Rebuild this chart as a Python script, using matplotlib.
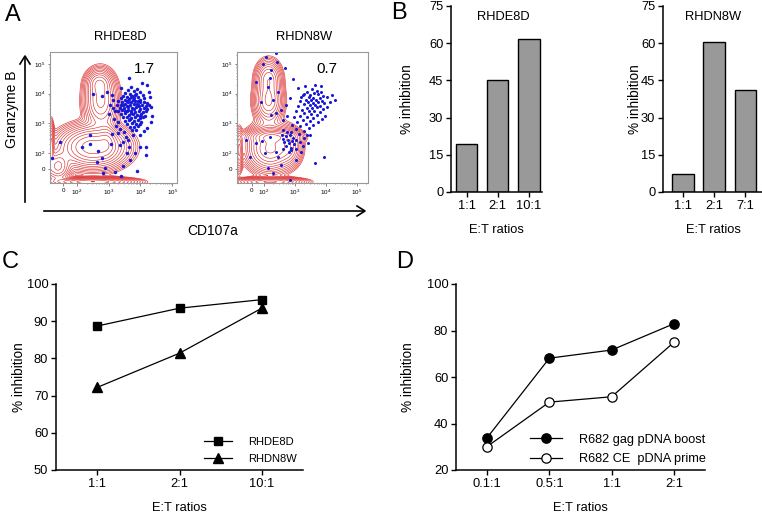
import numpy as np
import matplotlib.pyplot as plt

plt.rcParams['font.family'] = ['Liberation Sans', 'DejaVu Sans']
plt.rcParams['mathtext.fontset'] = 'custom'
plt.rcParams['mathtext.rm'] = 'Liberation Sans'
plt.rcParams['mathtext.it'] = 'Liberation Sans:italic'

# ---- panel A: flow cytometry (axes in log10 decades) ----
samples = ['RHDE8D', 'RHDN8W']
gate_pct = ['1.7', '0.7']

# density blobs: (x, y, sx, sy, weight)
blobs_de8d = [(2.50, 2.20, 0.50, 0.33, 1.00), (1.40, 1.55, 0.20, 0.25, 0.45),
              (2.50, 1.03, 0.60, 0.07, 0.80), (1.18, 2.20, 0.05, 0.40, 0.35),
              (2.75, 3.75, 0.25, 0.45, 0.45), (2.70, 4.35, 0.20, 0.22, 0.30),
              (2.95, 2.40, 0.15, 0.30, 0.25)]
blobs_dn8w = [(2.20, 2.15, 0.35, 0.35, 1.00), (2.30, 2.55, 0.40, 0.12, 0.60),
              (2.20, 1.03, 0.50, 0.07, 0.70), (2.15, 3.75, 0.22, 0.35, 0.50),
              (2.15, 4.50, 0.20, 0.30, 0.40), (2.80, 2.20, 0.20, 0.30, 0.30),
              (1.20, 2.10, 0.06, 0.35, 0.25)]

# blue CD107a+ events (decades)
de8d_x = [3.62, 3.78, 3.90, 3.70, 3.52, 3.85, 4.00, 3.66, 3.45, 3.58, 3.74, 3.92, 4.08, 3.38, 3.50, 3.64,
          3.80, 3.97, 4.12, 3.30, 3.43, 3.56, 3.70, 3.84, 3.98, 4.10, 4.20, 3.27, 3.40, 3.52, 3.66, 3.79,
          3.92, 4.04, 4.16, 4.26, 3.34, 3.47, 3.60, 3.73, 3.86, 3.99, 4.11, 4.22, 3.30, 3.43, 3.56, 3.69,
          3.82, 3.95, 4.07, 4.18, 3.38, 3.51, 3.64, 3.77, 3.90, 4.03, 4.14, 3.45, 3.58, 3.71, 3.84, 3.97,
          4.09, 3.52, 3.65, 3.78, 3.91, 4.02, 3.58, 3.72, 3.85, 3.97, 3.66, 3.80, 3.92, 3.73, 3.87,
          3.57, 3.88, 3.69, 3.81, 3.62, 3.96, 3.75, 3.50, 4.00, 3.66, 3.71, 3.83, 3.93, 3.60, 3.46,
          3.64, 2.78, 2.52, 2.94, 3.10, 3.15, 3.05, 3.12, 3.20, 3.02, 3.18, 3.28, 3.22, 3.36, 3.30, 3.10,
          2.41, 1.47, 1.20, 2.15, 2.41, 2.67, 2.78, 2.62, 2.88, 2.83, 3.06, 3.20, 3.39, 3.46, 3.67, 3.88,
          3.59, 3.83, 3.99, 4.18, 4.18, 3.65, 3.46, 3.36, 4.20, 4.30, 4.36, 4.20, 3.99, 3.55, 3.75, 3.48,
          4.10, 3.62, 4.05, 3.40, 4.28, 4.34, 4.32]
de8d_y = [4.12, 4.08, 4.15, 4.22, 4.02, 4.00, 4.05, 3.98, 3.92, 3.90, 3.93, 3.90, 3.94, 3.84, 3.80, 3.83,
          3.85, 3.80, 3.84, 3.74, 3.71, 3.74, 3.72, 3.76, 3.70, 3.73, 3.68, 3.63, 3.60, 3.64, 3.61, 3.65,
          3.60, 3.63, 3.58, 3.62, 3.52, 3.50, 3.54, 3.50, 3.54, 3.49, 3.53, 3.47, 3.41, 3.44, 3.40, 3.43,
          3.39, 3.43, 3.38, 3.42, 3.31, 3.33, 3.29, 3.32, 3.28, 3.31, 3.26, 3.20, 3.22, 3.18, 3.21, 3.17,
          3.20, 3.09, 3.11, 3.07, 3.10, 3.06, 2.98, 3.00, 2.96, 2.99, 2.88, 2.86, 2.90, 2.78, 2.76,
          3.58, 3.66, 3.36, 3.47, 3.70, 3.57, 3.80, 3.40, 3.25, 3.15, 3.88, 3.95, 3.75, 3.45, 3.62,
          4.54, 3.92, 3.99, 4.06, 3.95, 3.80, 3.62, 3.50, 3.40, 3.30, 3.15, 3.05, 2.90, 2.80, 2.68, 2.63,
          2.61, 2.38, 1.84, 2.21, 2.29, 2.07, 1.82, 1.69, 1.48, 1.34, 2.29, 1.37, 1.23, 1.57, 1.76, 1.39,
          1.99, 1.99, 2.21, 2.21, 1.93, 2.21, 2.38, 2.27, 4.29, 3.90, 3.25, 2.83, 2.61, 2.55, 2.62, 2.70,
          2.75, 2.45, 4.35, 4.20, 4.05, 3.55, 3.05]
dn8w_x = [3.55, 3.70, 3.40, 3.62, 3.85, 3.30, 3.50, 3.75, 3.92, 3.20, 3.44, 3.60, 3.80, 4.02, 3.35, 3.52,
          3.68, 3.88, 3.15, 3.42, 3.58, 3.74, 3.95, 4.12, 3.28, 3.48, 3.66, 3.82, 3.10, 3.38, 3.55, 3.72,
          3.90, 3.22, 3.45, 3.62, 3.80, 3.05, 3.30, 3.52, 3.70, 3.15, 3.40, 3.60, 2.98, 3.25, 3.48, 3.08,
          3.35, 3.58, 2.92, 3.18, 3.45, 3.02, 3.28, 2.88, 3.12, 3.38, 4.20, 4.05, 3.98, 3.85, 3.65, 3.32,
          4.28, 3.75, 3.88,
          2.62, 2.75, 2.58, 2.70, 2.85, 2.95, 2.62, 2.78, 2.90, 3.05, 2.66, 2.82, 2.98, 3.15, 2.72, 2.88,
          3.05, 3.25, 2.60, 2.80, 3.42, 3.30, 3.50, 3.20,
          3.64, 3.04, 2.83, 2.88, 2.45, 2.13, 2.29, 1.54, 1.43, 1.75, 2.55, 2.40, 2.20, 1.95, 2.05, 3.95,
          2.08, 2.42, 2.38, 1.97, 2.24, 2.67, 2.94, 2.18, 2.13, 1.75, 2.45, 2.29, 2.22, 2.40, 2.56, 2.72,
          2.83, 3.10, 3.26, 1.90, 2.60, 2.75]
dn8w_y = [4.15, 4.10, 4.05, 4.02, 4.06, 3.98, 3.95, 3.97, 3.92, 3.90, 3.88, 3.86, 3.85, 3.88, 3.80, 3.78,
          3.80, 3.76, 3.75, 3.70, 3.68, 3.72, 3.68, 3.72, 3.64, 3.60, 3.62, 3.58, 3.58, 3.52, 3.50, 3.54,
          3.48, 3.45, 3.42, 3.40, 3.38, 3.40, 3.34, 3.30, 3.28, 3.25, 3.20, 3.18, 3.20, 3.12, 3.08, 3.05,
          2.98, 2.95, 2.95, 2.90, 2.85, 2.80, 2.75, 2.72, 2.65, 2.62, 3.95, 3.55, 3.25, 4.25, 4.30, 4.25,
          3.80, 3.05, 3.15,
          2.78, 2.70, 2.62, 2.58, 2.60, 2.52, 2.48, 2.45, 2.40, 2.45, 2.36, 2.32, 2.30, 2.38, 2.22, 2.18,
          2.15, 2.25, 2.15, 2.05, 2.33, 2.50, 2.60, 2.05,
          1.65, 1.76, 1.09, 2.10, 1.88, 1.48, 1.32, 1.88, 2.44, 2.33, 1.60, 2.05, 2.55, 2.40, 2.00, 1.85,
          5.22, 5.07, 5.36, 4.99, 4.79, 4.87, 4.48, 4.51, 4.23, 4.40, 4.06, 3.78, 3.28, 3.34, 3.45, 3.62,
          3.84, 4.18, 3.95, 3.70, 3.10, 3.25]

# ---- panel B ----
ratios_b1 = ['1:1', '2:1', '10:1']
inhib_b1 = [19.5, 45.2, 61.6]
ratios_b2 = ['1:1', '2:1', '7:1']
inhib_b2 = [7.1, 60.6, 41.3]

# ---- panel C ----
ratios_c = ['1:1', '2:1', '10:1']
c_de8d = [88.7, 93.5, 95.8]
c_dn8w = [72.2, 81.4, 93.5]

# ---- panel D ----
ratios_d = ['0.1:1', '0.5:1', '1:1', '2:1']
d_boost = [33.9, 68.1, 71.6, 82.9]
d_prime = [30.1, 49.2, 51.5, 74.9]

W, H = 762, 515
fig = plt.figure(figsize=(W / 100, H / 100), dpi=100)


def add_ax(x0, y0, x1, y1):
    return fig.add_axes([x0 / W, 1 - y1 / H, (x1 - x0) / W, (y1 - y0) / H])


def ftext(x, y, s, **kw):
    fig.text(x / W, 1 - y / H, s, **kw)


def flow_panel(ax, blobs, xs, ys, xlim, ylim, x0, y0, ms):
    gx = np.linspace(xlim[0], xlim[1], 300)
    gy = np.linspace(ylim[0], ylim[1], 300)
    X, Y = np.meshgrid(gx, gy)
    Z = np.zeros_like(X)
    for cx, cy, sx, sy, w in blobs:
        Z += w * np.exp(-0.5 * ((X - cx) / sx) ** 2 - 0.5 * ((Y - cy) / sy) ** 2)
    levels = Z.max() * np.logspace(-1.9, -0.1, 13)
    ax.contour(X, Y, Z, levels=levels, colors='#dc3232', linewidths=0.45)
    ax.plot(xs, ys, 'o', color='#1818d8', ms=ms, mew=0)
    ax.set_xlim(xlim)
    ax.set_ylim(ylim)
    ax.set_xticks([x0, 2, 3, 4, 5], ['0', '10$^2$', '10$^3$', '10$^4$', '10$^5$'])
    ax.set_yticks([y0, 2, 3, 4, 5], ['0', '10$^2$', '10$^3$', '10$^4$', '10$^5$'])
    minor = [d + np.log10(k) for d in range(2, 6) for k in range(2, 10)]
    ax.set_xticks([m for m in minor if m < xlim[1]], minor=True)
    ax.set_yticks([m for m in minor if m < ylim[1]], minor=True)
    ax.tick_params(labelsize=4.5, length=1.8, width=0.5, pad=1.5, color='#555555')
    ax.tick_params(which='minor', length=1.0, width=0.4, color='#555555')
    for s in ax.spines.values():
        s.set_color('#999999')
        s.set_linewidth(0.8)


axA1 = add_ax(50, 52, 177, 183)
flow_panel(axA1, blobs_de8d, de8d_x, de8d_y, (1.15, 5.15), (0.99, 5.40), 1.56, 1.46, 2.5)
axA2 = add_ax(237, 52, 368, 183)
flow_panel(axA2, blobs_dn8w, dn8w_x, dn8w_y, (1.13, 5.36), (0.99, 5.40), 1.61, 1.46, 2.2)
ftext(120, 37, samples[0], ha='center', va='center', fontsize=9.3)
ftext(304, 37, samples[1], ha='center', va='center', fontsize=9.3)
ftext(144, 69, gate_pct[0], ha='center', va='center', fontsize=11)
ftext(327, 69, gate_pct[1], ha='center', va='center', fontsize=11)
ftext(12, 109, 'Granzyme B', ha='center', va='center', rotation=90, fontsize=10)
ftext(213, 231, 'CD107a', ha='center', va='center', fontsize=10)
fig.add_artist(plt.Line2D([25 / W, 25 / W], [1 - 202 / H, 1 - 57 / H], color='k', lw=1.2))
fig.add_artist(plt.Line2D([44 / W, 364 / W], [1 - 211 / H, 1 - 211 / H], color='k', lw=1.2))
fig.add_artist(plt.Line2D([20 / W, 25 / W, 30 / W], [1 - 64 / H, 1 - 56 / H, 1 - 64 / H], color='k', lw=1.2))
fig.add_artist(plt.Line2D([357 / W, 365 / W, 357 / W], [1 - 206 / H, 1 - 211 / H, 1 - 216 / H], color='k', lw=1.2))


def style_axes(ax):
    for side in ['top', 'right']:
        ax.spines[side].set_visible(False)
    for side in ['left', 'bottom']:
        ax.spines[side].set_linewidth(1.1)
    ax.tick_params(direction='out', length=3.5, width=1.0, labelsize=9.3, pad=2)


def bar_panel(ax, labels, vals, xlim, lab_x):
    ax.bar(range(len(vals)), vals, width=0.69, color='#999999', edgecolor='black', linewidth=1.0)
    ax.set_xlim(xlim)
    ax.set_ylim(0, 75)
    ax.set_yticks([0, 15, 30, 45, 60, 75])
    ax.set_xticks(range(len(vals)), labels)
    style_axes(ax)
    ax.set_ylabel('% inhibition', fontsize=9.8)
    ax.set_xlabel('E:T ratios', fontsize=9.3)
    ax.yaxis.set_label_coords(lab_x, 0.5)
    ax.xaxis.set_label_coords(0.5, -0.17)


axB1 = add_ax(451, 6, 542, 192)
bar_panel(axB1, ratios_b1, inhib_b1, (-0.5, 2.42), -0.41)
axB2 = add_ax(663, 6, 763, 192)
bar_panel(axB2, ratios_b2, inhib_b2, (-0.64, 2.56), -0.21)
ftext(503, 17, samples[0], ha='center', va='center', fontsize=9.3)
ftext(713, 17, samples[1], ha='center', va='center', fontsize=9.3)

axC = add_ax(56, 284, 303, 470)
xc = range(len(ratios_c))
axC.plot(xc, c_de8d, '-s', color='k', ms=6.3, lw=0.9, label=samples[0])
axC.plot(xc, c_dn8w, '-^', color='k', ms=6.8, lw=0.9, label=samples[1])
axC.set_xlim(-0.5, 2.5)
axC.set_ylim(50, 100)
axC.set_yticks([50, 60, 70, 80, 90, 100])
axC.set_xticks(list(xc), ratios_c)
style_axes(axC)
axC.set_ylabel('% inhibition', fontsize=9.8)
axC.set_xlabel('E:T ratios', fontsize=9.3)
axC.yaxis.set_label_coords(-0.121, 0.5)
axC.xaxis.set_label_coords(0.5, -0.17)
axC.legend(loc='upper left', bbox_to_anchor=(0.599, 0.177), frameon=False, fontsize=8.0,
           handlelength=2.5, handletextpad=1.5, labelspacing=0.6, borderpad=0, borderaxespad=0)

axD = add_ax(456, 284, 705, 470)
xd = range(len(ratios_d))
axD.plot(xd, d_boost, '-o', color='k', ms=6.7, lw=0.9, label='R682 gag pDNA boost')
axD.plot(xd, d_prime, '-o', color='k', mfc='white', mec='k', mew=0.9, ms=6.7, lw=0.9,
         label='R682 CE  pDNA prime')
axD.set_xlim(-0.5, 3.5)
axD.set_ylim(20, 100)
axD.set_yticks([20, 40, 60, 80, 100])
axD.set_xticks(list(xd), ratios_d)
style_axes(axD)
axD.set_ylabel('% inhibition', fontsize=9.8)
axD.set_xlabel('E:T ratios', fontsize=9.3)
axD.yaxis.set_label_coords(-0.165, 0.5)
axD.xaxis.set_label_coords(0.5, -0.17)
axD.legend(loc='upper left', bbox_to_anchor=(0.297, 0.195), frameon=False, fontsize=9.2,
           handlelength=2.5, handletextpad=1.3, labelspacing=0.6, borderpad=0, borderaxespad=0)

# panel letters
ftext(13, 15, 'A', ha='center', va='center', fontsize=17)
ftext(399, 13, 'B', ha='center', va='center', fontsize=17)
ftext(10, 262, 'C', ha='center', va='center', fontsize=17)
ftext(405, 262, 'D', ha='center', va='center', fontsize=17)

fig.savefig('out.png', dpi=100)
